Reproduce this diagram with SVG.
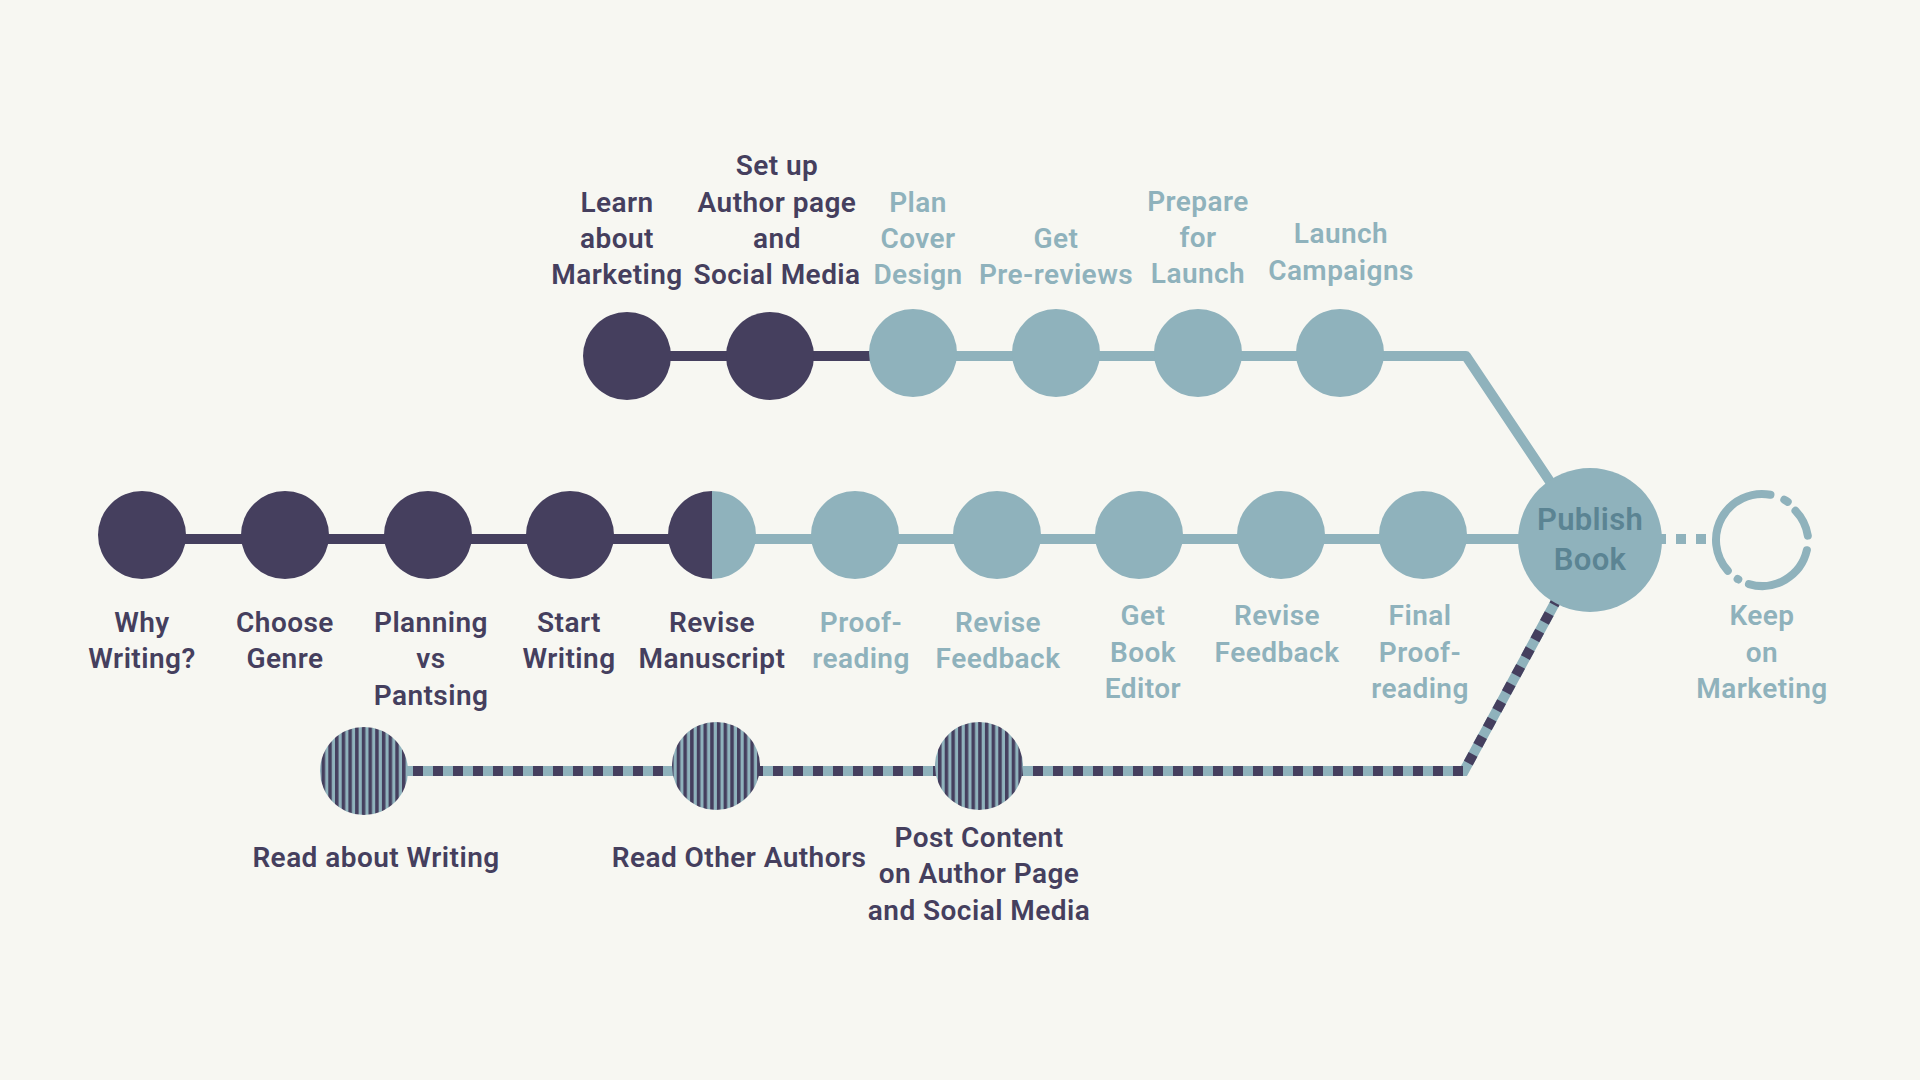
<svg xmlns="http://www.w3.org/2000/svg" width="1920" height="1080" viewBox="0 0 1920 1080">
<defs>
<style>
.bg{fill:#f7f7f2}
.d{fill:#453f5e}
.l{fill:#8fb2bc}
.s{fill:url(#stripes)}
.t{font-family:Roboto,"Liberation Sans",sans-serif;font-size:28px;font-weight:600;text-anchor:middle;letter-spacing:0.45px}
.td{fill:#453f5e}
.tl{fill:#8fb2bc}
.tp{fill:#5b8493;font-size:31px;letter-spacing:0.3px}
.ln{fill:none;stroke-width:10}
.ring{fill:none;stroke:#8fb2bc;stroke-width:8;stroke-linecap:round}
</style>
<pattern id="stripes" patternUnits="userSpaceOnUse" width="6.7" height="10">
<rect width="6.7" height="10" fill="#8fb2bc"/>
<rect width="3.5" height="10" fill="#453f5e"/>
</pattern>
</defs>
<rect class="bg" width="1920" height="1080"/>

<g id="connectors">
<line class="ln" x1="627" y1="356" x2="913" y2="356" stroke="#453f5e"/>
<polyline class="ln" points="913,356 1466,356 1589,540" stroke="#8fb2bc" stroke-linejoin="round"/>
<line class="ln" x1="142" y1="539" x2="712" y2="539" stroke="#453f5e"/>
<line class="ln" x1="712" y1="539" x2="1589" y2="539" stroke="#8fb2bc"/>
<line class="ln" x1="1656" y1="539" x2="1708" y2="539" stroke="#8fb2bc" stroke-dasharray="10 10"/>
<polyline class="ln" points="364,771 1464,771 1589,540" stroke="#8fb2bc" stroke-linejoin="miter"/>
<polyline class="ln" points="364,771 1464,771 1589,540" stroke="#453f5e" stroke-linejoin="miter" stroke-dasharray="10 10" stroke-dashoffset="11"/>
</g>

<g id="n-learn-marketing">
<circle class="d" cx="627" cy="356" r="44"/>
<text class="t td"><tspan x="617" y="212">Learn</tspan><tspan x="617" y="248">about</tspan><tspan x="617" y="284">Marketing</tspan></text>
</g>
<g id="n-author-page">
<circle class="d" cx="770" cy="356" r="44"/>
<text class="t td"><tspan x="777" y="175">Set up</tspan><tspan x="777" y="212">Author page</tspan><tspan x="777" y="248">and</tspan><tspan x="777" y="284">Social Media</tspan></text>
</g>
<g id="n-cover">
<circle class="l" cx="913" cy="353" r="44"/>
<text class="t tl"><tspan x="918" y="212">Plan</tspan><tspan x="918" y="248">Cover</tspan><tspan x="918" y="284">Design</tspan></text>
</g>
<g id="n-prereviews">
<circle class="l" cx="1056" cy="353" r="44"/>
<text class="t tl"><tspan x="1056" y="248">Get</tspan><tspan x="1056" y="284">Pre-reviews</tspan></text>
</g>
<g id="n-prepare-launch">
<circle class="l" cx="1198" cy="353" r="44"/>
<text class="t tl"><tspan x="1198" y="211">Prepare</tspan><tspan x="1198" y="247">for</tspan><tspan x="1198" y="283">Launch</tspan></text>
</g>
<g id="n-launch-campaigns">
<circle class="l" cx="1340" cy="353" r="44"/>
<text class="t tl"><tspan x="1341" y="243">Launch</tspan><tspan x="1341" y="280">Campaigns</tspan></text>
</g>

<g id="n-why">
<circle class="d" cx="142" cy="535" r="44"/>
<text class="t td"><tspan x="142" y="632">Why</tspan><tspan x="142" y="668">Writing?</tspan></text>
</g>
<g id="n-genre">
<circle class="d" cx="285" cy="535" r="44"/>
<text class="t td"><tspan x="285" y="632">Choose</tspan><tspan x="285" y="668">Genre</tspan></text>
</g>
<g id="n-planning">
<circle class="d" cx="428" cy="535" r="44"/>
<text class="t td"><tspan x="431" y="632">Planning</tspan><tspan x="431" y="668">vs</tspan><tspan x="431" y="705">Pantsing</tspan></text>
</g>
<g id="n-start">
<circle class="d" cx="570" cy="535" r="44"/>
<text class="t td"><tspan x="569" y="632">Start</tspan><tspan x="569" y="668">Writing</tspan></text>
</g>
<g id="n-revise-manuscript">
<path class="d" d="M712,491 A44,44 0 0,0 712,579 Z"/>
<path class="l" d="M712,491 A44,44 0 0,1 712,579 Z"/>
<text class="t td"><tspan x="712" y="632">Revise</tspan><tspan x="712" y="668">Manuscript</tspan></text>
</g>
<g id="n-proofreading">
<circle class="l" cx="855" cy="535" r="44"/>
<text class="t tl"><tspan x="861" y="632">Proof-</tspan><tspan x="861" y="668">reading</tspan></text>
</g>
<g id="n-revise-feedback-1">
<circle class="l" cx="997" cy="535" r="44"/>
<text class="t tl"><tspan x="998" y="632">Revise</tspan><tspan x="998" y="668">Feedback</tspan></text>
</g>
<g id="n-editor">
<circle class="l" cx="1139" cy="535" r="44"/>
<text class="t tl"><tspan x="1143" y="625">Get</tspan><tspan x="1143" y="662">Book</tspan><tspan x="1143" y="698">Editor</tspan></text>
</g>
<g id="n-revise-feedback-2">
<circle class="l" cx="1281" cy="535" r="44"/>
<text class="t tl"><tspan x="1277" y="625">Revise</tspan><tspan x="1277" y="662">Feedback</tspan></text>
</g>
<g id="n-final-proofreading">
<circle class="l" cx="1423" cy="535" r="44"/>
<text class="t tl"><tspan x="1420" y="625">Final</tspan><tspan x="1420" y="662">Proof-</tspan><tspan x="1420" y="698">reading</tspan></text>
</g>
<g id="n-publish">
<circle class="l" cx="1590" cy="540" r="72"/>
<text class="t tp"><tspan x="1590" y="530">Publish</tspan><tspan x="1590" y="570">Book</tspan></text>
</g>
<g id="n-keep-marketing">
<path class="ring" d="M1727.82,570.78 A46,46 0 0,1 1770.46,494.79"/>
<path class="ring" d="M1784.30,499.77 A46,46 0 0,1 1787.72,501.87"/>
<path class="ring" d="M1795.48,510.80 A46,46 0 0,1 1807.80,535.67"/>
<path class="ring" d="M1806.86,550.19 A46,46 0 0,1 1748.94,584.10"/>
<path class="ring" d="M1738.31,579.43 A46,46 0 0,1 1737.62,579.01"/>
<text class="t tl"><tspan x="1762" y="625">Keep</tspan><tspan x="1762" y="662">on</tspan><tspan x="1762" y="698">Marketing</tspan></text>
</g>

<g id="n-read-writing">
<circle class="s" cx="364" cy="771" r="44"/>
<text class="t td" x="376" y="867">Read about Writing</text>
</g>
<g id="n-read-authors">
<circle class="s" cx="716" cy="766" r="44"/>
<text class="t td" x="739" y="867">Read Other Authors</text>
</g>
<g id="n-post-content">
<circle class="s" cx="979" cy="766" r="44"/>
<text class="t td"><tspan x="979" y="847">Post Content</tspan><tspan x="979" y="883">on Author Page</tspan><tspan x="979" y="920">and Social Media</tspan></text>
</g>
</svg>
